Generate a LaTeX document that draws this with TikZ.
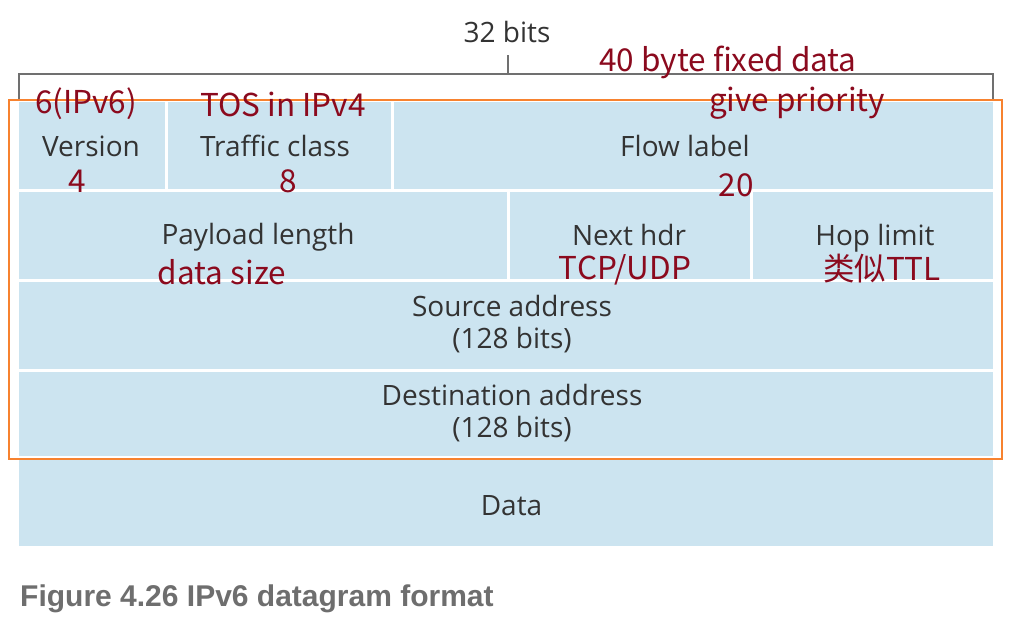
\documentclass[tikz,border=0pt]{standalone}
\usepackage{fontspec}
\setmainfont{Open Sans}
\newfontfamily\redfont{Noto Sans CJK SC}
\newfontfamily\capfont{Liberation Sans}
\definecolor{fieldblue}{HTML}{CCE4F0}
\definecolor{graytext}{HTML}{333333}
\definecolor{annot}{HTML}{8B0A1E}
\definecolor{orangebox}{HTML}{F7822F}
\definecolor{bracketgray}{HTML}{707070}
\definecolor{captiongray}{HTML}{6E6E6E}
\tikzset{
  field/.style={fill=fieldblue, draw=white, line width=3pt, inner sep=0pt},
  fieldtext/.style={text=graytext, font=\fontsize{28}{32}\selectfont,
    anchor=base, inner sep=0pt, align=center},
  annotation/.style={text=annot, font=\redfont\fontsize{31.5}{34}\selectfont,
    anchor=base, inner sep=0pt},
  bracket/.style={draw=bracketgray, line width=1.2pt},
  frame/.style={draw=orangebox, line width=2.5pt, inner sep=0pt},
}
\begin{document}
\begin{tikzpicture}[x=1pt,y=-1pt]
\useasboundingbox[fill=white] (0,0) rectangle (1031,628);
% fields
\node[field, minimum width=148.5pt, minimum height=90pt] (version) at (91.75,145.5) {};
\node[field, minimum width=226pt, minimum height=90pt] (traffic) at (279,145.5) {};
\node[field, minimum width=602.5pt, minimum height=90pt] (flow) at (693.25,145.5) {};
\node[field, minimum width=490.5pt, minimum height=90pt] (payload) at (262.75,235.5) {};
\node[field, minimum width=243pt, minimum height=90pt] (nexthdr) at (629.5,235.5) {};
\node[field, minimum width=243.5pt, minimum height=90pt] (hoplimit) at (872.75,235.5) {};
\node[field, minimum width=977pt, minimum height=89.5pt] (src) at (506,325.25) {};
\node[field, minimum width=977pt, minimum height=87.5pt] (dst) at (506,413.75) {};
\node[field, minimum width=977pt, minimum height=90pt] (data) at (506,502.5) {};
% field texts
\node[fieldtext] (versiontxt) at (91,157) {Version};
\node[fieldtext] (traffictxt) at (275,157) {Traffic class};
\node[fieldtext] (flowtxt) at (685,157) {Flow label};
\node[fieldtext] (payloadtxt) at (258,245) {Payload length};
\node[fieldtext] (nexthdrtxt) at (629,245.5) {Next hdr};
\node[fieldtext] (hoplimittxt) at (875,245.5) {Hop limit};
\node[fieldtext] (srctxt) at (512,317) {Source address};
\node[fieldtext] (srcbits) at (512,348.5) {(128 bits)};
\node[fieldtext] (dsttxt) at (512,405) {Destination address};
\node[fieldtext] (dstbits) at (512,437) {(128 bits)};
\node[fieldtext] (datatxt) at (511.5,515) {Data};
% bracket
\coordinate (bL) at (19,99);
\coordinate (bLt) at (19,74);
\coordinate (bR) at (993,100);
\coordinate (bRt) at (993,74);
\coordinate (bM) at (508,74);
\coordinate (bMt) at (508,55);
\draw[bracket] (bL) -- (bLt) -- (bRt) -- (bR);
\draw[bracket] (bM) -- (bMt);
\node[fieldtext] (width) at (507,43) {32 bits};
% orange frame
\node[frame, minimum width=993pt, minimum height=359pt] (hdrframe) at (505.5,279.5) {};
% annotations
\node[annotation] (a40) at (728,72) {40 byte fixed data};
\node[annotation] (a6) at (86,114) {6(IPv6)};
\node[annotation] (atos) at (283,117) {TOS in IPv4};
\node[annotation] (aprio) at (797,112) {give priority};
\node[annotation] (a4) at (77,193) {4};
\node[annotation] (a8) at (288,193) {8};
\node[annotation] (a20) at (736,197) {20};
\node[annotation] (asize) at (222,285) {data size};
\node[annotation] (atcp) at (625,280) {TCP/UDP};
\node[annotation] (attl) at (882,281) {类似TTL};
% caption
\node[anchor=base west, inner sep=0pt, text=captiongray, font=\capfont\bfseries\fontsize{30}{30}\selectfont] (caption) at (20,606) {Figure 4.26 IPv6 datagram format};
\end{tikzpicture}
\end{document}
